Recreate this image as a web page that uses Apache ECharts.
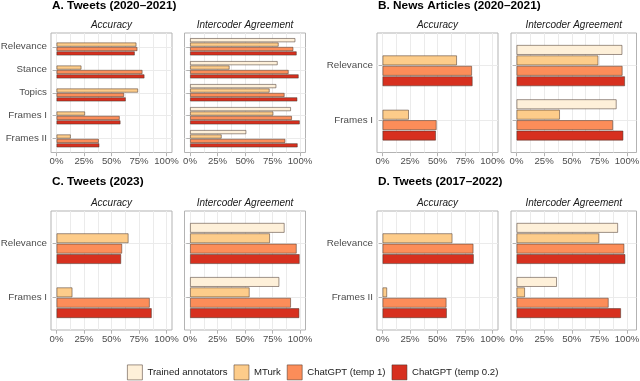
<!DOCTYPE html>
<html><head><meta charset="utf-8">
<script src="https://cdn.jsdelivr.net/npm/echarts@6/dist/echarts.min.js"></script>
<style>html,body{margin:0;padding:0;background:#fff}#c{width:640px;height:381px}</style>
</head><body><div id="c"></div>
<script>
// ---- data ----
const seriesNames = ['Trained annotators', 'MTurk', 'ChatGPT (temp 1)', 'ChatGPT (temp 0.2)'];
const xTickValues = [0, 25, 50, 75, 100];

// A. Tweets (2020-2021)
const catsA = ['Relevance', 'Stance', 'Topics', 'Frames I', 'Frames II'];
const accA_trained = [null, null, null, null, null];
const accA_mturk   = [72.7, 22.7, 74.2, 26.0, 13.0];
const accA_temp1   = [73.6, 78.2, 61.5, 57.5, 38.5];
const accA_temp02  = [71.2, 80.0, 63.0, 58.2, 39.0];
const icaA_trained = [95.8, 79.7, 78.5, 91.8, 51.2];
const icaA_mturk   = [80.6, 36.0, 72.4, 75.8, 28.8];
const icaA_temp1   = [94.0, 89.7, 86.0, 92.7, 86.7];
const icaA_temp02  = [97.0, 98.8, 97.6, 99.8, 97.9];

// B. News Articles (2020-2021)
const catsB = ['Relevance', 'Frames I'];
const accB_trained = [null, null];
const accB_mturk   = [67.7, 24.0];
const accB_temp1   = [81.4, 49.2];
const accB_temp02  = [81.9, 48.6];
const icaB_trained = [95.8, 90.6];
const icaB_mturk   = [74.1, 39.3];
const icaB_temp1   = [96.0, 87.4];
const icaB_temp02  = [98.2, 96.7];

// C. Tweets (2023)
const catsC = ['Relevance', 'Frames I'];
const accC_trained = [null, null];
const accC_mturk   = [65.5, 14.5];
const accC_temp1   = [59.7, 84.8];
const accC_temp02  = [58.8, 86.6];
const icaC_trained = [86.0, 81.2];
const icaC_mturk   = [72.7, 54.2];
const icaC_temp1   = [97.0, 91.8];
const icaC_temp02  = [99.7, 99.4];

// D. Tweets (2017-2022)
const catsD = ['Relevance', 'Frames II'];
const accD_trained = [null, null];
const accD_mturk   = [63.6, 4.2];
const accD_temp1   = [82.7, 58.2];
const accD_temp02  = [83.0, 58.5];
const icaD_trained = [91.9, 36.6];
const icaD_mturk   = [74.8, 7.7];
const icaD_temp1   = [97.6, 83.4];
const icaD_temp02  = [98.5, 94.6];

const panelTitles = ['A. Tweets (2020\u20132021)', 'B. News Articles (2020\u20132021)', 'C. Tweets (2023)', 'D. Tweets (2017\u20132022)'];
const subTitles = ['Accuracy', 'Intercoder Agreement'];

// ---- styling / layout ----
const colors = ['#FEF0D9', '#FDCC8A', '#FC8D59', '#D7301F'];
const FONT = '"Liberation Sans", Arial, Helvetica, sans-serif';
const cols = [
  {l: 51, r: 172, x0: 56.5, x1: 166.5},
  {l: 184.5, r: 305.5, x0: 190, x1: 300},
  {l: 377, r: 498, x0: 382.5, x1: 492.5},
  {l: 511, r: 636.5, x0: 516.5, x1: 627}
];
const rows = [{t: 33, b: 152.5, titleY: 6, subY: 25.5}, {t: 211, b: 330, titleY: 182, subY: 203}];

const panels = [
  {cats: catsA, row: 0, colPair: 0, acc: [accA_trained, accA_mturk, accA_temp1, accA_temp02], ica: [icaA_trained, icaA_mturk, icaA_temp1, icaA_temp02]},
  {cats: catsB, row: 0, colPair: 1, acc: [accB_trained, accB_mturk, accB_temp1, accB_temp02], ica: [icaB_trained, icaB_mturk, icaB_temp1, icaB_temp02]},
  {cats: catsC, row: 1, colPair: 0, acc: [accC_trained, accC_mturk, accC_temp1, accC_temp02], ica: [icaC_trained, icaC_mturk, icaC_temp1, icaC_temp02]},
  {cats: catsD, row: 1, colPair: 1, acc: [accD_trained, accD_mturk, accD_temp1, accD_temp02], ica: [icaD_trained, icaD_mturk, icaD_temp1, icaD_temp02]}
];

const grid = [], xAxis = [], yAxis = [], series = [], graphic = [];
const BORDER = 'rgba(70,50,40,0.65)';

panels.forEach((p, pi) => {
  const row = rows[p.row];
  graphic.push({type: 'text', x: cols[p.colPair * 2].l + 1, y: row.titleY,
    style: {text: panelTitles[pi], font: 'bold 11.8px ' + FONT, fill: '#000', textAlign: 'left', textVerticalAlign: 'middle', align: 'left', verticalAlign: 'middle'}});
  [p.acc, p.ica].forEach((vals, k) => {
    const c = cols[p.colPair * 2 + k];
    const n = p.cats.length;
    const H = row.b - row.t;
    const u = H / (n + 0.2);
    const scale = (c.x1 - c.x0) / 100;
    graphic.push({type: 'text', x: (c.l + c.r) / 2, y: row.subY,
      style: {text: subTitles[k], font: 'italic 10px ' + FONT, fill: '#1A1A1A', textAlign: 'center', textVerticalAlign: 'middle', align: 'center', verticalAlign: 'middle'}});
    // frame grid (panel box + grid lines)
    const gb = grid.length;
    grid.push({left: c.l, top: row.t, width: c.r - c.l, height: H, show: true, backgroundColor: '#fff',
      borderColor: '#B3B3B3', borderWidth: 1, containLabel: false, outerBoundsMode: 'none'});
    xAxis.push({gridIndex: gb, type: 'value', min: (c.l - c.x0) / scale, max: 100 + (c.r - c.x1) / scale,
      minInterval: 12.5, maxInterval: 12.5, axisLine: {show: false}, axisTick: {show: false}, axisLabel: {show: false},
      splitLine: {show: true, showMinLine: false, showMaxLine: false, lineStyle: {color: '#EBEBEB', width: 1}}});
    yAxis.push({gridIndex: gb, type: 'value', inverse: true, min: 0.4, max: n + 0.6, minInterval: 1, maxInterval: 1,
      axisLine: {show: false}, axisTick: {show: false}, axisLabel: {show: false},
      splitLine: {show: true, showMinLine: false, showMaxLine: false, lineStyle: {color: '#EBEBEB', width: 1}}});
    // data grid
    const gd = grid.length;
    grid.push({left: c.x0, top: row.t + 0.1 * u, width: c.x1 - c.x0, height: n * u, show: false, containLabel: false, outerBoundsMode: 'none'});
    xAxis.push({gridIndex: gd, type: 'value', min: 0, max: 100, interval: 25, offset: 0.1 * u,
      axisLine: {show: false}, axisTick: {show: true, length: 3.7, lineStyle: {color: '#B3B3B3'}},
      axisLabel: {formatter: '{value}%', fontSize: 9.6, fontFamily: FONT, color: '#4D4D4D', margin: 4, showMinLabel: true, showMaxLabel: true},
      splitLine: {show: false}});
    yAxis.push({gridIndex: gd, type: 'category', data: p.cats, inverse: true, offset: c.x0 - c.l,
      axisLine: {show: false}, axisTick: {show: true, alignWithLabel: true, interval: 0, length: 3.7, lineStyle: {color: '#B3B3B3'}},
      axisLabel: {show: k === 0, interval: 0, fontSize: 9.8, fontFamily: FONT, color: '#4D4D4D', margin: 4},
      splitLine: {show: false}});
    vals.forEach((d, si) => {
      series.push({type: 'bar', name: seriesNames[si], xAxisIndex: xAxis.length - 1, yAxisIndex: yAxis.length - 1,
        data: d, barCategoryGap: '24%', barGap: '5%', silent: true,
        itemStyle: {color: colors[si], borderColor: BORDER, borderWidth: 0.8}});
    });
  });
});

const chart = echarts.init(document.getElementById('c'), null, {renderer: 'canvas'});
chart.setOption({
  animation: false,
  textStyle: {fontFamily: FONT},
  grid, xAxis, yAxis, series, graphic,
  legend: {data: seriesNames, left: 127, top: 364.5, padding: 0, itemWidth: 15, itemHeight: 15, itemGap: 6,
    icon: 'rect', selectedMode: false,
    itemStyle: {borderColor: BORDER, borderWidth: 0.8},
    textStyle: {fontSize: 9.6, color: '#1A1A1A', fontFamily: FONT}}
});
</script></body></html>
